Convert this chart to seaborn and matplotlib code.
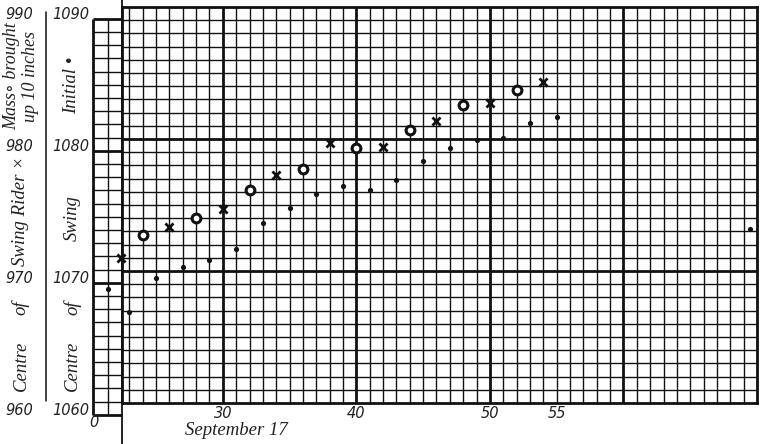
import matplotlib
matplotlib.use("Agg")
import matplotlib.pyplot as plt
from matplotlib.lines import Line2D
import seaborn as sns
import numpy as np

# ---------------- data ----------------
initial_x = [21.4, 23, 25, 27, 29, 31, 33, 35, 37, 39, 41, 43, 45, 47, 49, 51, 53, 55, 69.45]
initial_y = [1068.6, 1066.9, 1069.5, 1070.3, 1070.8, 1071.7, 1073.6, 1074.75, 1075.8, 1076.45,
             1076.15, 1076.9, 1078.35, 1079.35, 1079.9, 1080.05, 1081.2, 1081.65, 1073.15]

rider_x = [22.35, 26, 30, 34, 38, 42, 46, 50, 54]
rider_y = [1071.0, 1073.35, 1074.7, 1077.25, 1079.7, 1079.4, 1081.4, 1082.7, 1084.3]

mass_x = [24, 28, 32, 36, 40, 44, 48, 52]
mass_y = [1072.75, 1074.05, 1076.1, 1077.7, 1079.3, 1080.7, 1082.6, 1083.7]

x_ticks = [30, 40, 50, 55]
x_ticklabels = ["30", "40", "50", "55"]
y_ticks = [1060, 1070, 1080, 1090]
y_ticklabels = ["1060", "1070", "1080", "1090"]
y2_ticks = [960, 970, 980, 990]
y2_ticklabels = ["960", "970", "980", "990"]

# ---------------- style ----------------
sns.set_style("white")
plt.rcParams["font.family"] = ["Liberation Serif", "DejaVu Serif"]
INK = "#111111"
num_font = dict(family="DejaVu Sans", style="italic", size=10.5, color="#222222")
word_font = dict(family=["Liberation Serif", "DejaVu Serif"], style="italic", size=13.5, color="#222222")

W, H = 761, 444
fig = plt.figure(figsize=(W / 100, H / 100), dpi=100)
fig.patch.set_facecolor("white")

def fx(px):
    return px / W

def fy(py):
    return 1 - py / H

X0, X1 = 22.45, 70.0
Y0, Y1 = 1060, 1090
ax = fig.add_axes([fx(122), fy(403), fx(757) - fx(122), fy(7) - fy(403)])
ax.set_xlim(X0, X1)
ax.set_ylim(Y0, Y1)
ax.set_facecolor("white")

# ---------------- graph paper ----------------
thin = 1.0
heavy = 2.0
minor_x = [v for v in range(23, 70) if v % 10]
major_x = [30, 40, 50, 60]
minor_y = [v for v in range(1061, 1090) if v % 10]
major_y = [1070, 1080]
ax.vlines(minor_x, Y0, Y1, color=INK, lw=thin, zorder=1)
ax.vlines(major_x, Y0, Y1, color=INK, lw=heavy, zorder=1)
ax.hlines(minor_y, X0, X1, color=INK, lw=thin, zorder=1)
ax.hlines(major_y, X0, X1, color=INK, lw=heavy, zorder=1)
for s in ax.spines.values():
    s.set_visible(True)
    s.set_color(INK)
    s.set_linewidth(heavy)

# left strip of paper (offset one square lower)
sx0, sx1, sxm = 20.25, X0, 21.4
sy0 = 1059.1
strip_h = [sy0 + k for k in range(31)]
strip_heavy = [sy0 + k for k in (0, 10, 20, 30)]
ax.hlines([v for v in strip_h if v not in strip_heavy], sx0, sx1, color=INK, lw=thin,
          clip_on=False, zorder=1)
ax.hlines(strip_heavy, sx0, sx1, color=INK, lw=heavy, clip_on=False, zorder=1)
ax.vlines([sxm], sy0, sy0 + 30, color=INK, lw=thin, clip_on=False, zorder=1)
ax.vlines([sx0], sy0, sy0 + 30, color=INK, lw=heavy, clip_on=False, zorder=1)

# long vertical edge and label separator
fig.add_artist(Line2D([fx(122), fx(122)], [fy(0), fy(444)], color=INK, lw=1.3))
fig.add_artist(Line2D([fx(46), fx(46)], [fy(12), fy(401)], color=INK, lw=1.1))

# ---------------- points ----------------
sns.scatterplot(x=initial_x, y=initial_y, ax=ax, marker="o", s=14, color=INK,
                linewidth=0, clip_on=False, zorder=5)
sns.scatterplot(x=rider_x, y=rider_y, ax=ax, marker="x", s=34, color=INK,
                linewidth=2.0, clip_on=False, zorder=5)
sns.scatterplot(x=mass_x, y=mass_y, ax=ax, marker="o", s=40, facecolor="white",
                edgecolor=INK, linewidth=2.2, clip_on=False, zorder=5)

# ---------------- ticks ----------------
ax.set_xticks(x_ticks, x_ticklabels, **num_font)
ax.tick_params(axis="x", length=0, pad=2)
ax.set_yticks(y_ticks, y_ticklabels, va="top", **num_font)
ax.tick_params(axis="y", length=0, pad=(122 - 89) * 0.72)

sec = ax.secondary_yaxis("left", functions=(lambda y: y - 100, lambda y: y + 100))
sec.set_yticks(y2_ticks, y2_ticklabels, va="top", **num_font)
sec.tick_params(axis="y", length=0, pad=(122 - 33) * 0.72)
sec.spines["left"].set_visible(False)

ax.set_xlabel("")
ax.set_ylabel("")

# cut-off "0" of the first x label
fig.text(fx(93.5), fy(422), "0", ha="center", va="center", **num_font)

# x caption
fig.text(fx(236), fy(430), "September 17", ha="center", va="center", **word_font)

# ---------------- rotated axis captions ----------------
def vtext(px, py, s, size=13.5):
    d = dict(word_font)
    d["size"] = size
    fig.text(fx(px), fy(py), s, rotation=90, ha="center", va="center", **d)

# inner column
vtext(72, 366, "Centre")
vtext(72, 308, "of")
vtext(72, 218, "Swing")
vtext(72, 85, "Initial •")
# outer column
vtext(21, 366, "Centre")
vtext(21, 308, "of")
vtext(21, 211, "Swing Rider ×")
vtext(12, 76, "Mass∘ brought", size=13)
vtext(31, 76, "up 10 inches", size=13)

fig.savefig("out.png", dpi=100, facecolor="white")
